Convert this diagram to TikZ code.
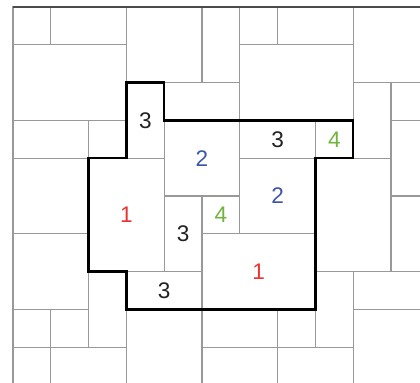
\documentclass[tikz,border=0pt]{standalone}
\usepackage{fontspec}
\setmainfont{Liberation Sans}
\usepackage{tikz}

\definecolor{numred}{RGB}{232,52,52}
\definecolor{numblue}{RGB}{62,86,168}
\definecolor{numgreen}{RGB}{112,180,62}
\definecolor{numblack}{RGB}{34,34,34}

\tikzset{
  tile/.style={draw=gray!80,line width=1pt},
  outline/.style={draw=black,line width=1.9pt,line join=miter},
  clue/.style={font=\fontsize{17}{20}\selectfont,inner sep=0pt}
}

\begin{document}
\begin{tikzpicture}[x=1cm,y=-1cm]
  \useasboundingbox (-0.344,-0.185) rectangle (10.767,9.921);
  \clip (-0.344,-0.185) rectangle (10.767,9.921);
  % tiles of the board (col,row of two corners)
  \foreach \xa/\ya/\xb/\yb in {
      0/0/1/1, 1/0/3/1, 0/1/3/3, 3/0/5/2, 5/0/6/2, 6/0/7/1, 7/0/9/1,
      6/1/9/3, 9/0/12/2, 3/2/4/4, 4/2/6/3, 9/2/10/4, 10/2/12/3, 10/3/12/5,
      0/3/2/4, 2/3/3/4, 4/3/6/5, 6/3/8/4, 8/3/9/4, 6/4/8/6, 8/4/10/7,
      0/4/2/6, 2/4/4/7, 4/5/5/7, 5/5/6/6, 5/6/8/8, 10/5/12/7,
      0/6/2/8, 2/7/3/9, 3/7/5/8, 8/7/9/9, 9/7/12/8,
      0/8/1/9, 1/8/2/9, 3/8/5/11, 5/8/7/9, 7/8/8/9, 9/8/12/11,
      0/9/1/11, 1/9/3/11, 5/9/7/11, 7/9/9/11}
    \draw[tile] (\xa,\ya) rectangle (\xb,\yb);
  % top edge of the board
  \draw[gray!60!black,line width=1pt] (0,0) -- (12,0);
  % region boundary
  \draw[outline] (3,2) -- (4,2) -- (4,3) -- (9,3) -- (9,4) -- (8,4) -- (8,8)
    -- (3,8) -- (3,7) -- (2,7) -- (2,4) -- (3,4) -- cycle;
  % clues
  \node[clue,numblack] (c3a) at (3.5,3)   {3};
  \node[clue,numblue]  (c2a) at (5,4)     {2};
  \node[clue,numblack] (c3b) at (7,3.5)   {3};
  \node[clue,numgreen] (c4a) at (8.5,3.5) {4};
  \node[clue,numred]   (c1a) at (3,5.5)   {1};
  \node[clue,numgreen] (c4b) at (5.5,5.5) {4};
  \node[clue,numblue]  (c2b) at (7,5)     {2};
  \node[clue,numblack] (c3c) at (4.5,6)   {3};
  \node[clue,numred]   (c1b) at (6.5,7)   {1};
  \node[clue,numblack] (c3d) at (4,7.5)   {3};
\end{tikzpicture}
\end{document}
